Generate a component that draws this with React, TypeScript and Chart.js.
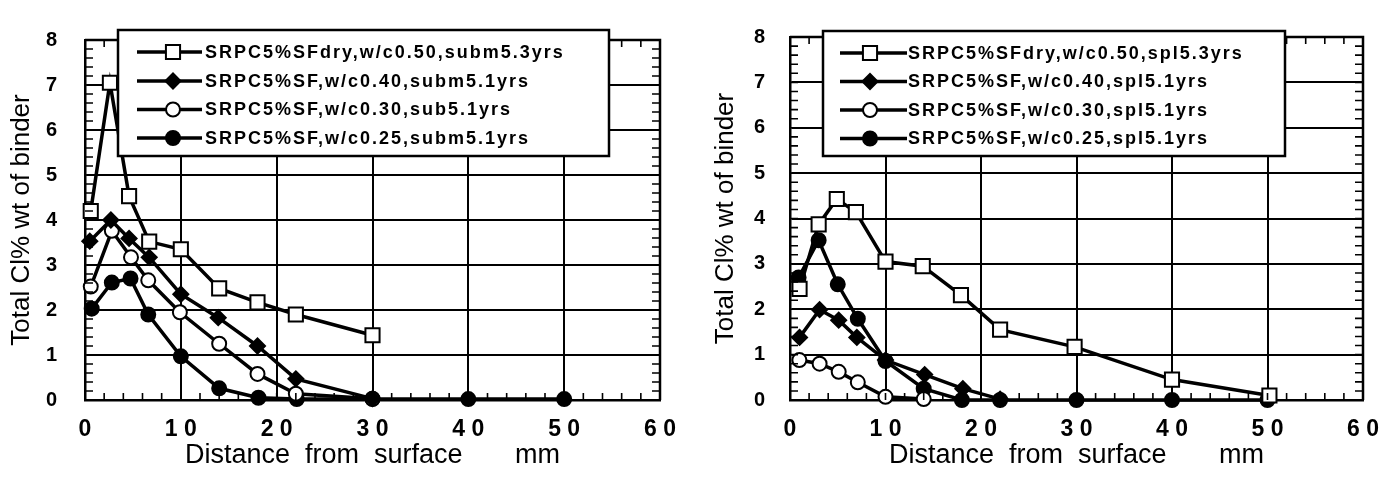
import React, { useEffect, useRef } from "react";
import { Chart, registerables } from "chart.js";

Chart.register(...registerables);

// ---------------- data ----------------
const X_TICK_VALUES = [0, 10, 20, 30, 40, 50, 60];
const X_TICK_LABELS = ["0", "1 0", "2 0", "3 0", "4 0", "5 0", "6 0"];
const Y_TICK_VALUES = [0, 1, 2, 3, 4, 5, 6, 7, 8];
const Y_TICK_LABELS = ["0", "1", "2", "3", "4", "5", "6", "7", "8"];
const X_TITLE = "Distance  from  surface       mm";
const Y_TITLE = "Total Cl% wt of binder";

const LEFT_NAMES = [
  "SRPC5%SFdry,w/c0.50,subm5.3yrs",
  "SRPC5%SF,w/c0.40,subm5.1yrs",
  "SRPC5%SF,w/c0.30,sub5.1yrs",
  "SRPC5%SF,w/c0.25,subm5.1yrs",
];
const RIGHT_NAMES = [
  "SRPC5%SFdry,w/c0.50,spl5.3yrs",
  "SRPC5%SF,w/c0.40,spl5.1yrs",
  "SRPC5%SF,w/c0.30,spl5.1yrs",
  "SRPC5%SF,w/c0.25,spl5.1yrs",
];

// left panel (submerged)
const L_DRY_X = [0.6, 2.6, 4.6, 6.7, 10, 14, 18, 22, 30];
const L_DRY_Y = [4.2, 7.05, 4.53, 3.52, 3.35, 2.48, 2.17, 1.9, 1.44];
const L_40_X = [0.5, 2.7, 4.6, 6.7, 10, 13.9, 18, 22, 30];
const L_40_Y = [3.53, 4.0, 3.59, 3.17, 2.35, 1.83, 1.2, 0.47, 0.03];
const L_30_X = [0.6, 2.8, 4.8, 6.6, 9.9, 14, 18, 22, 30];
const L_30_Y = [2.52, 3.76, 3.17, 2.66, 1.95, 1.25, 0.58, 0.14, 0.03];
const L_25_X = [0.7, 2.8, 4.75, 6.6, 10, 14, 18.1, 22.1, 30, 40, 50];
const L_25_Y = [2.03, 2.61, 2.7, 1.9, 0.97, 0.26, 0.05, 0.02, 0.02, 0.02, 0.02];

// right panel (splash)
const R_DRY_X = [1.0, 3.0, 4.9, 6.9, 10, 13.9, 17.9, 22, 29.8, 40, 50.2];
const R_DRY_Y = [2.45, 3.87, 4.43, 4.14, 3.05, 2.95, 2.31, 1.55, 1.17, 0.45, 0.1];
const R_40_X = [1.0, 3.1, 5.1, 7.0, 10, 14.1, 18.1, 22];
const R_40_Y = [1.38, 1.99, 1.76, 1.38, 0.88, 0.56, 0.25, 0.02];
const R_30_X = [0.98, 3.1, 5.1, 7.1, 10, 14];
const R_30_Y = [0.88, 0.8, 0.62, 0.39, 0.07, 0.02];
const R_25_X = [0.9, 3.0, 5.0, 7.1, 10, 14, 18, 22, 30, 40, 50];
const R_25_Y = [2.7, 3.52, 2.55, 1.79, 0.86, 0.25, 0.0, 0.0, 0.0, 0.0, 0.0];

// ---------------- styles ----------------
const FONT = '"Liberation Sans", Arial, Helvetica, sans-serif';
const MARKERS = [
  { style: "rect", filled: false, radius: 10 },
  { style: "rectRot", filled: true, radius: 7.5 },
  { style: "circle", filled: false, radius: 7 },
  { style: "circle", filled: true, radius: 7 },
];

function toPoints(xs: number[], ys: number[]) {
  return xs.map((x, i) => ({ x, y: ys[i] }));
}

function drawMarker(ctx: CanvasRenderingContext2D, m: any, x: number, y: number) {
  ctx.beginPath();
  if (m.style === "rect") {
    const s = m.radius * Math.SQRT1_2;
    ctx.rect(x - s, y - s, 2 * s, 2 * s);
  } else if (m.style === "rectRot") {
    const r = m.radius;
    ctx.moveTo(x - r, y);
    ctx.lineTo(x, y - r);
    ctx.lineTo(x + r, y);
    ctx.lineTo(x, y + r);
    ctx.closePath();
  } else {
    ctx.arc(x, y, m.radius, 0, Math.PI * 2);
  }
  ctx.fillStyle = m.filled ? "#000" : "#fff";
  ctx.fill();
  ctx.lineWidth = 2;
  ctx.strokeStyle = "#000";
  ctx.stroke();
}

const framePlugin = {
  id: "frameAndLegend",
  afterDatasetsDraw(chart: any, _args: any, opts: any) {
    const { ctx, chartArea } = chart;
    const xs = chart.scales.x;
    const ys = chart.scales.y;
    ctx.save();
    // top & right frame
    ctx.strokeStyle = "#000";
    ctx.lineWidth = 2.5;
    ctx.beginPath();
    ctx.moveTo(chartArea.left, chartArea.top);
    ctx.lineTo(chartArea.right, chartArea.top);
    ctx.lineTo(chartArea.right, chartArea.bottom);
    ctx.stroke();
    // minor ticks (inward)
    ctx.lineWidth = 1.6;
    ctx.beginPath();
    for (let v = 0; v <= 60; v += 2) {
      const px = xs.getPixelForValue(v);
      ctx.moveTo(px, chartArea.bottom);
      ctx.lineTo(px, chartArea.bottom - 7);
      ctx.moveTo(px, chartArea.top);
      ctx.lineTo(px, chartArea.top + 7);
    }
    for (let k = 0; k <= 40; k++) {
      const py = ys.getPixelForValue(k * 0.2);
      ctx.moveTo(chartArea.left, py);
      ctx.lineTo(chartArea.left + 8, py);
      ctx.moveTo(chartArea.right, py);
      ctx.lineTo(chartArea.right - 8, py);
    }
    ctx.stroke();

    // legend box
    const b = opts.box;
    ctx.fillStyle = "#fff";
    ctx.fillRect(b.left, b.top, b.right - b.left, b.bottom - b.top);
    ctx.lineWidth = 2.5;
    ctx.strokeStyle = "#000";
    ctx.strokeRect(b.left, b.top, b.right - b.left, b.bottom - b.top);
    chart.data.datasets.forEach((ds: any, i: number) => {
      const y = opts.rows[i];
      ctx.beginPath();
      ctx.lineWidth = 3.5;
      ctx.strokeStyle = "#000";
      ctx.moveTo(opts.lineX0, y);
      ctx.lineTo(opts.lineX1, y);
      ctx.stroke();
      drawMarker(ctx, MARKERS[i], opts.markerX, y);
      ctx.fillStyle = "#000";
      ctx.font = `bold 18px ${FONT}`;
      (ctx as any).letterSpacing = "2px";
      ctx.textAlign = "left";
      ctx.textBaseline = "middle";
      ctx.fillText(ds.label, opts.textX, y + 1);
      (ctx as any).letterSpacing = "0px";
    });
    ctx.restore();
  },
};

function makeConfig(
  names: string[],
  series: { x: number[]; y: number[] }[],
  geom: any
) {
  return {
    type: "line",
    data: {
      datasets: series.map((s, i) => ({
        label: names[i],
        data: toPoints(s.x, s.y),
        borderColor: "#000",
        borderWidth: 3.5,
        tension: 0,
        fill: false,
        clip: false,
        pointStyle: MARKERS[i].style,
        pointRadius: MARKERS[i].radius,
        pointBackgroundColor: MARKERS[i].filled ? "#000" : "#fff",
        pointBorderColor: "#000",
        pointBorderWidth: 2,
      })),
    },
    options: {
      responsive: false,
      animation: false,
      devicePixelRatio: 1,
      layout: { padding: { left: 0, top: 13, right: geom.rightPad, bottom: 0 } },
      plugins: {
        legend: { display: false },
        tooltip: { enabled: false },
        frameAndLegend: geom.legend,
      },
      scales: {
        x: {
          type: "linear",
          min: 0,
          max: 60,
          afterFit: (s: any) => {
            s.height = 77;
          },
          afterBuildTicks: (s: any) => {
            s.ticks = X_TICK_VALUES.map((v) => ({ value: v }));
          },
          grid: { color: "#000", lineWidth: 2, drawTicks: false },
          border: { color: "#000", width: 2.5 },
          ticks: {
            padding: 16,
            autoSkip: false,
            maxRotation: 0,
            color: "#000",
            font: { family: FONT, size: 23, weight: "bold" },
            callback: (v: any) => {
              const i = X_TICK_VALUES.indexOf(Number(v));
              return i >= 0 ? X_TICK_LABELS[i] : "";
            },
          },
          title: {
            display: true,
            text: X_TITLE,
            color: "#000",
            font: { family: FONT, size: 27 },
            padding: { top: 0, bottom: 5 },
          },
        },
        y: {
          type: "linear",
          min: 0,
          max: 8,
          afterFit: (s: any) => {
            s.width = geom.yWidth;
          },
          afterBuildTicks: (s: any) => {
            s.ticks = Y_TICK_VALUES.map((v) => ({ value: v }));
          },
          grid: { color: "#000", lineWidth: 2, drawTicks: false },
          border: { color: "#000", width: 2.5 },
          ticks: {
            padding: geom.yTickPad,
            autoSkip: false,
            color: "#000",
            font: { family: FONT, size: 20, weight: "bold" },
            callback: (v: any) => {
              const i = Y_TICK_VALUES.indexOf(Number(v));
              return i >= 0 ? Y_TICK_LABELS[i] : "";
            },
          },
          title: {
            display: true,
            text: Y_TITLE,
            color: "#000",
            font: { family: FONT, size: 26 },
            padding: { top: geom.yTitlePad, bottom: 0 },
          },
        },
      },
    },
    plugins: [framePlugin],
  };
}

function Panel(props: { names: string[]; series: any[]; geom: any; left: number }) {
  const ref = useRef<HTMLCanvasElement>(null);
  useEffect(() => {
    if (!ref.current) return;
    const chart = new Chart(ref.current, makeConfig(props.names, props.series, props.geom) as any);
    return () => chart.destroy();
  }, []);
  return (
    <canvas
      ref={ref}
      width={700}
      height={477}
      style={{ position: "absolute", left: props.left, top: 0, width: 700, height: 477 }}
    />
  );
}

const LEFT_GEOM = {
  rightPad: 40,
  yWidth: 85,
  yTickPad: 28,
  yTitlePad: 6,
  legend: {
    box: { left: 118, top: 30, right: 609, bottom: 156 },
    rows: [52, 81, 109.5, 138],
    lineX0: 137,
    lineX1: 202,
    markerX: 173,
    textX: 205,
  },
};

const RIGHT_GEOM = {
  rightPad: 37,
  yWidth: 90,
  yTickPad: 25,
  yTitlePad: 10,
  legend: {
    box: { left: 123, top: 31, right: 585, bottom: 156 },
    rows: [53, 81.5, 110, 138.5],
    lineX0: 140,
    lineX1: 207,
    markerX: 170,
    textX: 208,
  },
};

export default function App() {
  const leftSeries = [
    { x: L_DRY_X, y: L_DRY_Y },
    { x: L_40_X, y: L_40_Y },
    { x: L_30_X, y: L_30_Y },
    { x: L_25_X, y: L_25_Y },
  ];
  const rightSeries = [
    { x: R_DRY_X, y: R_DRY_Y },
    { x: R_40_X, y: R_40_Y },
    { x: R_30_X, y: R_30_Y },
    { x: R_25_X, y: R_25_Y },
  ];
  return (
    <div style={{ position: "absolute", left: 0, top: 0, width: 1400, height: 477, background: "#fff" }}>
      <Panel names={LEFT_NAMES} series={leftSeries} geom={LEFT_GEOM} left={0} />
      <Panel names={RIGHT_NAMES} series={rightSeries} geom={RIGHT_GEOM} left={700} />
    </div>
  );
}
